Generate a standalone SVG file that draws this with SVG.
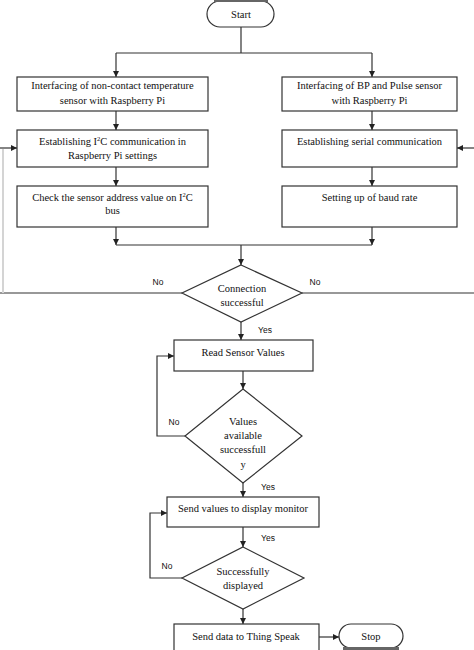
<svg xmlns="http://www.w3.org/2000/svg" width="474" height="650" viewBox="0 0 474 650">
<defs>
<marker id="ah" viewBox="0 0 10 10" refX="10" refY="5" markerWidth="6" markerHeight="6" orient="auto" markerUnits="userSpaceOnUse">
<path d="M0,0 L10,5 L0,10 z" fill="#222"/>
</marker>
<style>
.box{fill:#fff;stroke:#333;stroke-width:1.2}
.t{font-family:"Liberation Serif","Times New Roman",serif;font-size:10.5px;fill:#111;text-anchor:middle}
.s{font-family:"Liberation Sans",Arial,sans-serif;font-size:8.5px;fill:#111;text-anchor:middle}
.c{fill:none;stroke:#333;stroke-width:1.2}
.ca{fill:none;stroke:#333;stroke-width:1.2;marker-end:url(#ah)}
</style>
</defs>
<rect width="474" height="650" fill="#fff"/>
<g id="connectors">
<path class="c" d="M241,27 V53 M116,53 H372"/>
<path class="ca" d="M116,53 V77"/>
<path class="ca" d="M372,53 V77"/>
<path class="ca" d="M116,111 V130"/>
<path class="ca" d="M372,111 V130"/>
<path class="ca" d="M116,167 V186"/>
<path class="ca" d="M372,167 V186"/>
<path class="ca" d="M116,227 V245"/>
<path class="ca" d="M372,227 V245"/>
<path class="c" d="M116,245 H372"/>
<path class="ca" d="M241,245 V265"/>
<path class="c" d="M182,293 H0"/>
<path class="c" d="M302,293 H474"/>
<path d="M3,293 V149" fill="none" stroke="#d4d4d4" stroke-width="2"/>
<path class="ca" d="M0,148 H17"/>
<path class="ca" d="M474,148 H457"/>
<path class="ca" d="M241,322 V340"/>
<path class="ca" d="M243,371 V389"/>
<path class="ca" d="M185,436 H157 V356 H174"/>
<path class="ca" d="M243,483 V497"/>
<path class="ca" d="M243,527 V547"/>
<path class="ca" d="M182,578 H150 V513 H167"/>
<path class="ca" d="M243,609 V624"/>
<path class="ca" d="M319,637 H339"/>
<text class="s" x="158" y="285">No</text>
<text class="s" x="315" y="285">No</text>
<text class="s" x="265" y="333">Yes</text>
<text class="s" x="174" y="425">No</text>
<text class="s" x="268" y="490">Yes</text>
<text class="s" x="268" y="541">Yes</text>
<text class="s" x="167" y="569">No</text>
</g>
<g id="start">
<rect x="207" y="1" width="67" height="26" rx="13" class="box"/>
<rect x="214" y="0" width="54" height="2" fill="#666"/>
<text class="t" x="241" y="18">Start</text>
</g>
<g id="l1">
<rect class="box" x="17" y="77" width="191" height="34"/>
<text class="t" x="112.5" y="89">Interfacing of non-contact temperature</text>
<text class="t" x="112.5" y="104">sensor with Raspberry Pi</text>
</g>
<g id="r1">
<rect class="box" x="282" y="77" width="175" height="34"/>
<text class="t" x="369.5" y="89">Interfacing of BP and Pulse sensor</text>
<text class="t" x="369.5" y="104">with Raspberry Pi</text>
</g>
<g id="l2">
<rect class="box" x="17" y="130" width="191" height="37"/>
<text class="t" x="112.5" y="145">Establishing I<tspan font-size="6.5" dy="-4">2</tspan><tspan dy="4">C communication in</tspan></text>
<text class="t" x="112.5" y="159">Raspberry Pi settings</text>
</g>
<g id="r2">
<rect class="box" x="282" y="130" width="175" height="37"/>
<text class="t" x="369.5" y="145">Establishing serial communication</text>
</g>
<g id="l3">
<rect class="box" x="17" y="186" width="191" height="41"/>
<text class="t" x="112.5" y="201">Check the sensor address value on I<tspan font-size="6.5" dy="-4">2</tspan><tspan dy="4">C</tspan></text>
<text class="t" x="112.5" y="214">bus</text>
</g>
<g id="r3">
<rect class="box" x="282" y="186" width="175" height="41"/>
<text class="t" x="369.5" y="201">Setting up of baud rate</text>
</g>
<g id="d1">
<polygon class="box" points="241,265 302,293 241,322 182,293"/>
<text class="t" x="242" y="292">Connection</text>
<text class="t" x="242" y="306">successful</text>
</g>
<g id="read">
<rect class="box" x="174" y="340" width="139" height="31"/>
<text class="t" x="243" y="356">Read Sensor Values</text>
</g>
<g id="d2">
<polygon class="box" points="243,389 302,436 243,483 185,436"/>
<text class="t" x="243" y="425">Values</text>
<text class="t" x="243" y="439">available</text>
<text class="t" x="243" y="453">successfull</text>
<text class="t" x="243" y="468">y</text>
</g>
<g id="send">
<rect class="box" x="167" y="497" width="152" height="30"/>
<text class="t" x="243" y="512">Send values to display monitor</text>
</g>
<g id="d3">
<polygon class="box" points="243,547 304,578 243,609 182,578"/>
<text class="t" x="243" y="575">Successfully</text>
<text class="t" x="243" y="589">displayed</text>
</g>
<g id="thing">
<rect class="box" x="174" y="624" width="145" height="30"/>
<text class="t" x="246" y="640">Send data to Thing Speak</text>
</g>
<g id="stop">
<rect class="box" x="339" y="624" width="64" height="24" rx="12"/>
<rect x="343" y="647" width="56" height="3" fill="#666"/>
<text class="t" x="371" y="640">Stop</text>
</g>
</svg>
